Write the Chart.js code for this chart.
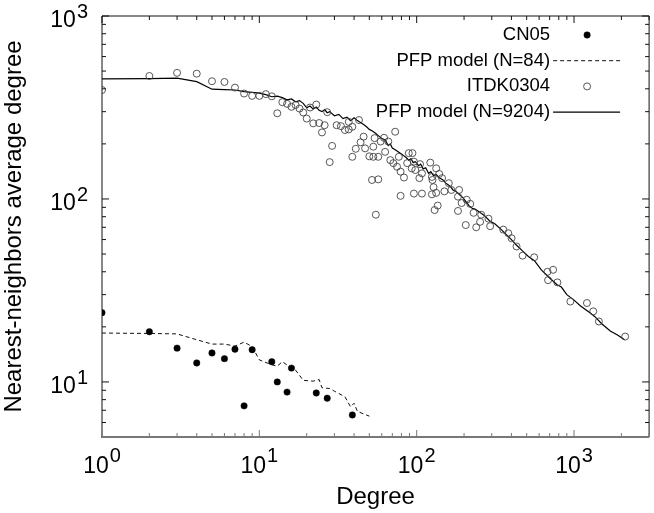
<!DOCTYPE html>
<html>
<head>
<meta charset="utf-8">
<style>
    html, body { margin: 0; padding: 0; background: #fff; }
    #wrap { width: 654px; height: 513px; }
</style>
</head>
<body>
<div id="wrap"><canvas id="knnChart"></canvas></div>

<script src="https://cdn.jsdelivr.net/npm/chart.js"></script>
<script>
    // CN05 measured points
    const cn05Deg = [1, 2, 3, 4, 5, 6, 7, 8, 9, 12, 13, 15, 16, 23, 27, 39];
    const cn05Knn = [23.9, 18.8, 15.3, 12.7, 14.4, 13.4, 15.1, 7.4, 15.0, 12.9, 10.0, 8.8, 11.9, 8.7, 8.15, 6.6];

    // PFP model, N=84 (dashed)
    const pfpSmallDeg = [1, 2, 3, 4, 5, 6, 7, 8, 9, 10, 12, 13, 14, 16, 17, 19, 22, 24, 25, 28, 30, 35, 38, 40, 42, 50];
    const pfpSmallKnn = [18.5, 18.4, 18.3, 17.0, 16.1, 16.1, 15.7, 16.5, 15.6, 13.2, 12.4, 12.2, 12.9, 11.9, 11.6, 10.2, 10.1, 10.3, 9.3, 9.2, 8.9, 8.3, 7.3, 7.65, 6.9, 6.5];

    // ITDK0304 measured points
    const itdkDeg = [1, 2, 3, 4, 5, 6, 7, 8, 9, 10, 11, 12, 13, 14, 15, 16, 17, 18, 19, 20,
        21, 22, 23, 24, 25, 26, 27, 28, 29, 31, 33, 35, 37, 39, 37, 43, 39, 41, 44, 46,
        47, 50, 53, 57, 53, 54, 59, 62, 66, 63, 68, 52, 57, 55, 73, 77, 75, 71, 79, 83,
        87, 89, 94, 96, 93, 98, 105, 108, 122, 125, 79, 96, 108, 125, 104, 130, 136, 133, 139, 126,
        128, 133, 145, 150, 160, 166, 186, 183, 193, 208, 219, 183, 230, 257, 286, 293, 253, 239, 205, 355,
        382, 401, 431, 471, 558, 678, 736, 684, 784, 948, 1208, 1325, 1439, 2113];
    const itdkKnn = [394, 470, 489, 484, 440, 436, 406, 377, 366, 366, 374, 364, 294, 338, 331, 319, 326, 312, 297, 275,
        316, 259, 328, 260, 231, 253, 298, 159, 195, 253, 250, 238, 240, 248, 264, 270, 170, 188, 204, 219,
        189, 171, 170, 170, 193, 215, 206, 216, 206, 181, 163, 127, 128, 82, 233, 170, 150, 157, 141, 131,
        157, 178, 178, 160, 147, 144, 155, 138, 158, 132, 104, 107, 107, 106, 130, 87, 92, 147, 137, 127,
        116, 108, 130, 110, 122, 112, 112, 103, 95, 99, 94, 86, 84, 82, 78, 71, 75, 70, 72, 68,
        65, 61, 55, 49, 48, 40, 41, 36, 35, 27.5, 27, 24.3, 21.4, 17.7];

    // PFP model, N=9204 (solid)
    const pfpBigDeg = [1, 2, 3, 4, 5, 6, 7, 8, 9, 10, 11, 12, 13, 14, 15, 16, 17, 18, 19, 20,
        21, 22, 23, 24, 25, 26, 27, 28, 30, 32, 34, 36, 38, 40, 42, 44, 46, 48, 50, 52,
        55, 57, 60, 63, 66, 68, 70, 73, 77, 80, 83, 86, 89, 92, 95, 98, 103, 106, 110, 114,
        119, 123, 128, 133, 140, 147, 153, 160, 165, 170, 178, 186, 196, 205, 215, 225, 235, 250, 270, 290,
        315, 345, 370, 400, 430, 470, 513, 560, 620, 700, 780, 831, 900, 1000, 1100, 1250, 1352, 1500, 1700, 1900,
        2096];
    const pfpBigKnn = [453, 455, 458, 438, 398, 396, 394, 386, 382, 379, 372, 362, 365, 358, 348, 352, 340, 345, 333, 315,
        322, 310, 318, 305, 300, 308, 296, 300, 285, 290, 275, 280, 268, 278, 268, 262, 255, 248, 240, 236,
        228, 222, 214, 210, 196, 200, 190, 186, 180, 176, 172, 168, 163, 166, 158, 160, 152, 155, 146, 148,
        138, 141, 134, 136, 130, 127, 122, 119, 116, 112, 110, 106, 102, 97, 92, 89, 88, 85, 81, 76,
        73, 68, 64, 60, 56, 52, 48.5, 46, 41, 37, 34, 33, 30, 28, 26, 24, 22.8, 20.8, 19, 18,
        17];

    // axis ranges and tick labels (powers of ten)
    const xRange = [1, 3000];
    const yRange = [5, 1000];
    const xTickPowers = [0, 1, 2, 3];
    const yTickPowers = [1, 2, 3];

    const FONT = "'Liberation Sans', Arial, sans-serif";

    function toPoints(xs, ys) {
        return xs.map((x, i) => ({ x: x, y: ys[i] }));
    }

    // values 1..9 x 10^n inside [min, max]
    function logTickValues(min, max) {
        const out = [];
        for (let e = Math.floor(Math.log10(min)); e <= Math.ceil(Math.log10(max)); e++) {
            for (let m = 1; m <= 9; m++) {
                const v = m * Math.pow(10, e);
                if (v >= min * 0.999 && v <= max * 1.001) out.push({ v: v, major: m === 1 });
            }
        }
        return out;
    }

    // gnuplot-like frame with inward ticks on all four sides, plus tick labels
    const framePlugin = {
        id: 'frame',
        afterDraw(chart) {
            const { ctx, chartArea: a, scales } = chart;
            const sx = scales.x, sy = scales.y;
            ctx.save();

            function seg(x1, y1, x2, y2) {
                ctx.beginPath();
                ctx.moveTo(x1, y1);
                ctx.lineTo(x2, y2);
                ctx.stroke();
            }

            ctx.strokeStyle = '#111';
            ctx.lineWidth = 1;
            seg(a.left, a.top, a.right, a.top);
            seg(a.left, a.top, a.left, a.bottom);
            seg(a.right, a.top, a.right, a.bottom);

            logTickValues(xRange[0], xRange[1]).forEach(t => {
                const px = sx.getPixelForValue(t.v);
                const len = t.major ? 7 : 4;
                seg(px, a.top, px, a.top + len);
            });
            logTickValues(yRange[0], yRange[1]).forEach(t => {
                const py = sy.getPixelForValue(t.v);
                const len = t.major ? 7 : 4;
                seg(a.left, py, a.left + len, py);
                seg(a.right, py, a.right - len, py);
            });

            ctx.strokeStyle = '#777';
            ctx.lineWidth = 2;
            seg(a.left - 1, a.bottom, a.right, a.bottom);
            ctx.lineWidth = 1;
            logTickValues(xRange[0], xRange[1]).forEach(t => {
                const px = sx.getPixelForValue(t.v);
                const len = t.major ? 7 : 4;
                seg(px, a.bottom, px, a.bottom - len);
            });

            // tick labels 10^n
            ctx.fillStyle = '#000';
            ctx.textBaseline = 'alphabetic';
            const baseFont = '23px ' + FONT;
            const expFont = '20px ' + FONT;

            xTickPowers.forEach(p => {
                const px = sx.getPixelForValue(Math.pow(10, p));
                ctx.font = baseFont;
                const wb = ctx.measureText('10').width;
                ctx.font = expFont;
                const we = ctx.measureText(String(p)).width;
                const start = px - (wb + we + 1) / 2;
                ctx.textAlign = 'left';
                ctx.font = baseFont;
                ctx.fillText('10', start, a.bottom + 36);
                ctx.font = expFont;
                ctx.fillText(String(p), start + wb + 1, a.bottom + 25);
            });

            yTickPowers.forEach(p => {
                const py = sy.getPixelForValue(Math.pow(10, p));
                ctx.font = expFont;
                const we = ctx.measureText(String(p)).width;
                ctx.textAlign = 'right';
                ctx.fillText(String(p), a.left - 14, py + 2);
                ctx.font = baseFont;
                ctx.fillText('10', a.left - 14 - we - 1, py + 11);
            });

            ctx.restore();
        }
    };

    // legend in gnuplot style: label right-aligned, sample on its right
    const keyPlugin = {
        id: 'key',
        afterDraw(chart) {
            const { ctx, chartArea: a } = chart;
            ctx.save();
            ctx.font = '18.5px ' + FONT;
            ctx.textAlign = 'right';
            ctx.textBaseline = 'middle';
            chart.data.datasets.forEach((ds, i) => {
                const yy = a.top + 19 + i * 25.7;
                ctx.fillStyle = '#000';
                ctx.fillText(ds.label, a.right - 99, yy);
                if (ds.showLine) {
                    ctx.strokeStyle = ds.borderColor;
                    ctx.lineWidth = ds.borderWidth;
                    ctx.setLineDash(ds.borderDash || []);
                    ctx.beginPath();
                    ctx.moveTo(a.right - 96, yy);
                    ctx.lineTo(a.right - 29, yy);
                    ctx.stroke();
                    ctx.setLineDash([]);
                } else {
                    ctx.beginPath();
                    ctx.arc(a.right - 62, yy, ds.pointRadius, 0, Math.PI * 2);
                    if (ds.pointBackgroundColor !== 'rgba(0,0,0,0)') {
                        ctx.fillStyle = ds.pointBackgroundColor;
                        ctx.fill();
                    }
                    ctx.strokeStyle = ds.pointBorderColor;
                    ctx.lineWidth = ds.pointBorderWidth;
                    ctx.stroke();
                }
            });
            ctx.restore();
        }
    };

    const ctx = document.getElementById('knnChart').getContext('2d');
    new Chart(ctx, {
        type: 'scatter',
        data: {
            datasets: [
                {
                    label: 'CN05',
                    data: toPoints(cn05Deg, cn05Knn),
                    showLine: false,
                    pointRadius: 3.2,
                    pointBackgroundColor: '#000',
                    pointBorderColor: '#000',
                    pointBorderWidth: 0.5
                },
                {
                    label: 'PFP model (N=84)',
                    data: toPoints(pfpSmallDeg, pfpSmallKnn),
                    showLine: true,
                    pointRadius: 0,
                    borderColor: '#111',
                    borderWidth: 1,
                    borderDash: [4, 3]
                },
                {
                    label: 'ITDK0304',
                    data: toPoints(itdkDeg, itdkKnn),
                    showLine: false,
                    pointRadius: 3.5,
                    pointBackgroundColor: 'rgba(0,0,0,0)',
                    pointBorderColor: '#444',
                    pointBorderWidth: 0.9
                },
                {
                    label: 'PFP model (N=9204)',
                    data: toPoints(pfpBigDeg, pfpBigKnn),
                    showLine: true,
                    pointRadius: 0,
                    borderColor: '#000',
                    borderWidth: 1.2
                }
            ]
        },
        options: {
            responsive: true,
            maintainAspectRatio: false,
            animation: false,
            layout: { padding: { top: 16, right: 2, left: 0, bottom: 0 } },
            elements: { line: { tension: 0 } },
            plugins: {
                legend: { display: false },
                tooltip: { enabled: false }
            },
            scales: {
                x: {
                    type: 'logarithmic',
                    min: xRange[0],
                    max: xRange[1],
                    grid: { display: false },
                    border: { display: false },
                    ticks: { display: false },
                    title: {
                        display: true,
                        text: 'Degree',
                        color: '#000',
                        font: { family: FONT, size: 24 },
                        padding: { top: 0, bottom: 1 }
                    },
                    afterFit(scale) { scale.height = 76; }
                },
                y: {
                    type: 'logarithmic',
                    min: yRange[0],
                    max: yRange[1],
                    grid: { display: false },
                    border: { display: false },
                    ticks: { display: false },
                    title: {
                        display: true,
                        text: 'Nearest-neighbors average degree',
                        color: '#000',
                        font: { family: FONT, size: 24 },
                        padding: { top: 0, bottom: 0 }
                    },
                    afterFit(scale) { scale.width = 102; }
                }
            }
        },
        plugins: [framePlugin, keyPlugin]
    });
</script>
</body>
</html>
